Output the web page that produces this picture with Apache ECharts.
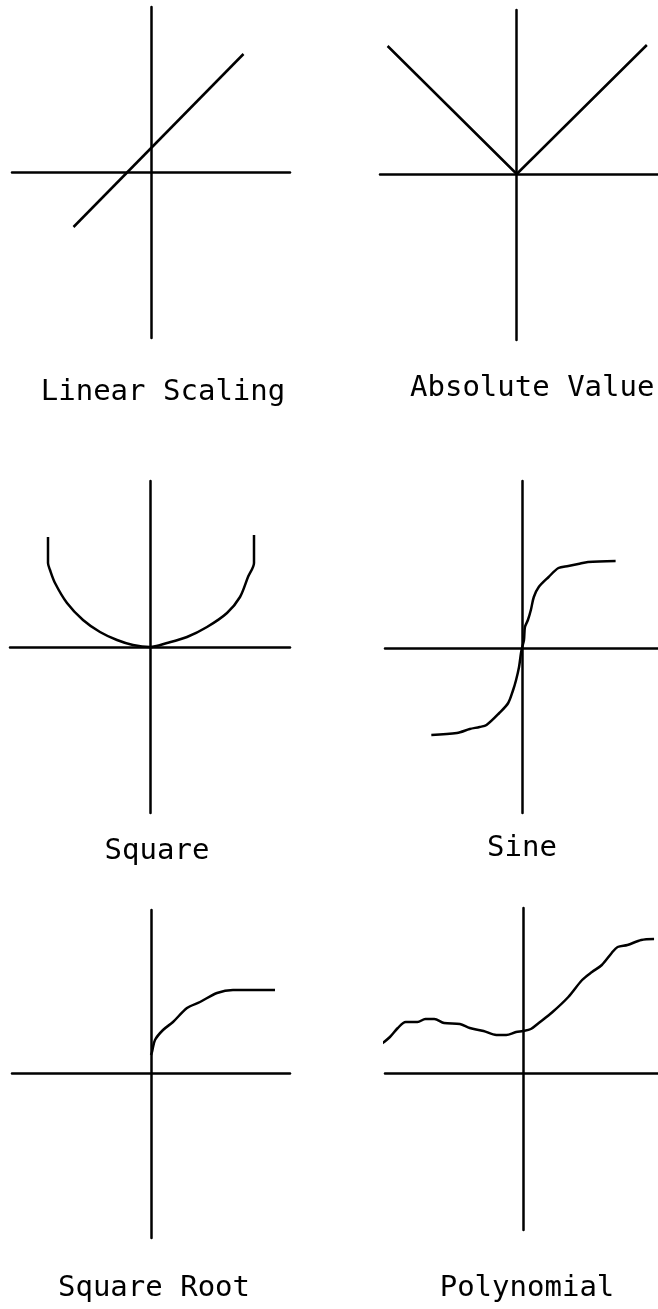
<!DOCTYPE html>
<html>
<head>
<meta charset="utf-8">
<script src="https://cdn.jsdelivr.net/npm/echarts@6/dist/echarts.min.js"></script>
<style>
    html, body { margin: 0; padding: 0; background: #fff; }
    #chart { width: 658px; height: 1309px; }
</style>
</head>
<body>
<div id="chart"></div>
<script>
// 六个小图的标题
var labels = ['Linear Scaling', 'Absolute Value', 'Square', 'Sine', 'Square Root', 'Polynomial'];

// 各曲线的点 (相对原点的偏移, y 向上)
var linearPts = [[-78, -55], [92, 118]];
var absPts = [[-131, 128], [0, 0], [132, 129]];
var squarePts = [[-102, 110], [-102, 84], [-100, 77], [-95, 64], [-83, 44], [-67, 27], [-50, 15], [-33, 7], [-17, 2], [0, 0],
    [17, 4], [37, 10], [57, 20], [77, 34], [90, 50], [98, 70], [104, 84], [104, 112]];
var sinePts = [[-92, -87], [-66, -85], [-53, -81], [-43, -79], [-36, -77], [-23, -65], [-14, -55], [-9, -42], [-6, -32],
    [-3, -19], [-1, -5], [0, 0], [2, 8], [3, 21], [6, 28], [9, 38], [12, 51], [17, 61], [27, 71], [37, 80], [47, 82],
    [57, 84], [67, 86], [95, 87]];
var sqrtPts = [[0, 18], [1, 21], [4, 33], [12, 43], [22, 51], [36, 65], [49, 71], [66, 80], [82, 83], [124, 83]];
var polyPts = [[-145, 28], [-135, 36], [-127, 45], [-119, 51], [-107, 51], [-99, 54], [-90, 54], [-80, 50], [-64, 49],
    [-54, 45], [-40, 42], [-27, 38], [-17, 38], [-7, 41], [0, 42], [8, 44], [16, 50], [30, 61], [46, 76], [60, 93],
    [70, 101], [80, 108], [90, 120], [96, 126], [106, 128], [120, 133], [133, 134]];

var curves = [linearPts, absPts, squarePts, sinePts, sqrtPts, polyPts];
var smoothing = [false, false, 0.3, 0.3, 0.3, 0.3];

// 每个小图的位置: 原点 ox/oy, 坐标轴线范围 x0..x1, y0..y1 (像素)
var panels = [
    {ox: 151.5, oy: 172, x0: 12, x1: 290, y0: 7, y1: 338, tx: 163, ty: 392, align: 'center'},
    {ox: 518.7, oy: 174, x0: 380, x1: 662, y0: 10, y1: 340, tx: 410, ty: 388, align: 'left'},
    {ox: 150, oy: 647, x0: 10, x1: 290, y0: 481, y1: 813, tx: 157, ty: 851, align: 'center'},
    {ox: 524, oy: 648, x0: 385, x1: 662, y0: 481, y1: 813, tx: 522, ty: 848, align: 'center'},
    {ox: 151, oy: 1073, x0: 12, x1: 290, y0: 910, y1: 1238, tx: 154, ty: 1288, align: 'center'},
    {ox: 525, oy: 1073, x0: 385, x1: 662, y0: 908, y1: 1230, tx: 527, ty: 1288, align: 'center'}
];

var chart = echarts.init(document.getElementById('chart'));

var grids = [], xAxes = [], yAxes = [], series = [], texts = [];
var axisStyle = {
    axisLine: {show: true, onZero: true, lineStyle: {color: '#000', width: 2.5}},
    axisTick: {show: false},
    axisLabel: {show: false},
    splitLine: {show: false}
};

panels.forEach(function (p, i) {
    grids.push({left: p.x0, top: p.y0, width: p.x1 - p.x0, height: p.y1 - p.y0});
    xAxes.push(Object.assign({type: 'value', gridIndex: i, min: p.x0 - p.ox, max: p.x1 - p.ox}, axisStyle));
    yAxes.push(Object.assign({type: 'value', gridIndex: i, min: p.oy - p.y1, max: p.oy - p.y0}, axisStyle));
    series.push({
        type: 'line',
        xAxisIndex: i,
        yAxisIndex: i,
        data: curves[i],
        smooth: smoothing[i],
        showSymbol: false,
        clip: false,
        lineStyle: {color: '#000', width: 2.5},
        z: 3
    });
    texts.push({
        type: 'text',
        x: p.tx,
        y: p.ty,
        style: {
            text: labels[i],
            fill: '#000',
            font: '29px "DejaVu Sans Mono"',
            textAlign: p.align,
            textVerticalAlign: 'middle'
        }
    });
});

var option = {
    backgroundColor: '#fff',
    animation: false,
    grid: grids,
    xAxis: xAxes,
    yAxis: yAxes,
    series: series,
    graphic: texts
};
chart.setOption(option);
</script>
</body>
</html>
